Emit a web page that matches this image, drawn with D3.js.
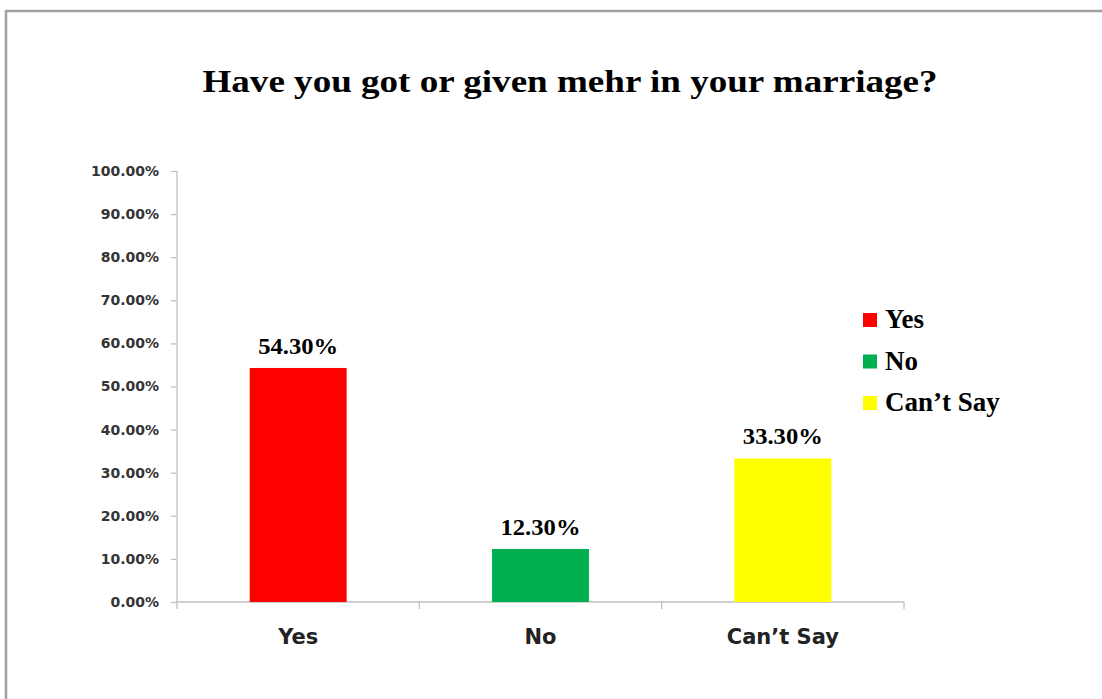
<!DOCTYPE html>
<html>
<head>
<meta charset="utf-8">
<script src="https://cdn.jsdelivr.net/npm/d3@7"></script>
<style>
  html, body { margin: 0; padding: 0; background: #fff; }
  svg { display: block; }
</style>
</head>
<body>
<svg id="chart" width="1102" height="699"></svg>
<script>
// Survey responses
const categories = ["Yes", "No", "Can’t Say"];
const values = [54.3, 12.3, 33.3];
const colors = ["#ff0000", "#00b050", "#ffff00"];
const yTicks = [0, 10, 20, 30, 40, 50, 60, 70, 80, 90, 100];
const title = "Have you got or given mehr in your marriage?";

const svg = d3.select("#chart");
const serif = "'Liberation Serif', 'Times New Roman', serif";
const sans = "'DejaVu Sans', Verdana, sans-serif";

// Outer frame
svg.append("path")
  .attr("d", "M6,700 L6,11 L1103,11")
  .attr("fill", "none")
  .attr("stroke", "#a0a0a0")
  .attr("stroke-width", 2.5);

const plot = { left: 177, right: 904, top: 171, bottom: 602 };

const x = d3.scaleBand()
  .domain(categories)
  .range([plot.left, plot.right])
  .paddingInner(0.6)
  .paddingOuter(0.3);

const y = d3.scaleLinear()
  .domain([0, 100])
  .range([plot.bottom, plot.top]);

// Title (wide set)
svg.append("text")
  .attr("x", 570)
  .attr("y", 92)
  .attr("text-anchor", "middle")
  .attr("font-family", serif)
  .attr("font-weight", "bold")
  .attr("font-size", 32)
  .attr("textLength", 735)
  .attr("lengthAdjust", "spacingAndGlyphs")
  .attr("fill", "#000")
  .text(title);

// Y axis
const yAxis = svg.append("g")
  .attr("transform", `translate(${plot.left},0)`)
  .call(d3.axisLeft(y).tickValues(yTicks).tickSize(6).tickPadding(12)
    .tickFormat(d => d.toFixed(2) + "%"));
yAxis.selectAll("path, line").attr("stroke", "#c0c0c0").attr("stroke-width", 1.3);
yAxis.select(".domain").attr("d", `M0,${plot.top} V${plot.bottom}`);
yAxis.selectAll("text")
  .attr("font-family", sans)
  .attr("font-weight", "bold")
  .attr("font-size", 14)
  .attr("fill", "#333");

// X axis with ticks at band boundaries
const xAxisG = svg.append("g").attr("transform", `translate(0,${plot.bottom})`);
xAxisG.append("line")
  .attr("x1", plot.left).attr("x2", plot.right)
  .attr("stroke", "#c0c0c0").attr("stroke-width", 1.3);
const step = (plot.right - plot.left) / categories.length;
xAxisG.selectAll("line.tick")
  .data(d3.range(categories.length + 1))
  .join("line")
  .attr("class", "tick")
  .attr("x1", i => plot.left + i * step)
  .attr("x2", i => plot.left + i * step)
  .attr("y1", 0).attr("y2", 7)
  .attr("stroke", "#c0c0c0").attr("stroke-width", 1.3);
xAxisG.selectAll("text")
  .data(categories)
  .join("text")
  .attr("x", d => x(d) + x.bandwidth() / 2)
  .attr("y", 42)
  .attr("text-anchor", "middle")
  .attr("font-family", sans)
  .attr("font-weight", "bold")
  .attr("font-size", 21)
  .attr("fill", "#222")
  .text(d => d);

// Bars
svg.selectAll("rect.bar")
  .data(categories)
  .join("rect")
  .attr("class", "bar")
  .attr("x", d => x(d))
  .attr("width", x.bandwidth())
  .attr("y", (d, i) => y(values[i]))
  .attr("height", (d, i) => plot.bottom - y(values[i]))
  .attr("fill", (d, i) => colors[i]);

// Value labels
svg.selectAll("text.val")
  .data(categories)
  .join("text")
  .attr("class", "val")
  .attr("x", d => x(d) + x.bandwidth() / 2)
  .attr("y", (d, i) => y(values[i]) - 14)
  .attr("text-anchor", "middle")
  .attr("font-family", serif)
  .attr("font-weight", "bold")
  .attr("font-size", 24)
  .attr("textLength", 80)
  .attr("lengthAdjust", "spacingAndGlyphs")
  .attr("fill", "#000")
  .text((d, i) => values[i].toFixed(2) + "%");

// Legend
const legend = svg.append("g").attr("transform", "translate(863,313)");
const rowH = 41.5;
categories.forEach((c, i) => {
  const g = legend.append("g").attr("transform", `translate(0,${i * rowH})`);
  g.append("rect").attr("width", 14).attr("height", 14).attr("fill", colors[i]);
  g.append("text")
    .attr("x", 22).attr("y", 15)
    .attr("font-family", serif)
    .attr("font-weight", "bold")
    .attr("font-size", 27)
    .attr("fill", "#000")
    .text(c);
});
</script>
</body>
</html>
